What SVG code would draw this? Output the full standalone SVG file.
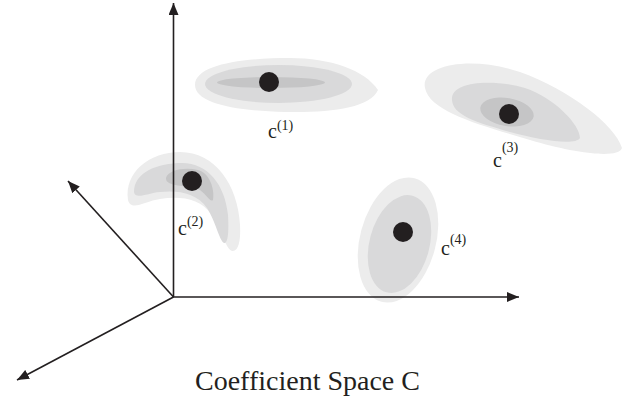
<svg xmlns="http://www.w3.org/2000/svg" width="642" height="401" viewBox="0 0 642 401">
<style>
.l1{fill:#ececec}
.l2{fill:#d9d9da}
.l3{fill:#c5c5c6}
.dot{fill:#231f20}
.ax{stroke:#231f20;stroke-width:1.6;fill:none}
.lbl{font-family:"Liberation Serif","Times New Roman",serif;fill:#231f20}
.c{font-size:20px}
.sup{font-size:14px}
</style>
<defs>
<marker id="ah" markerWidth="13" markerHeight="10" refX="12" refY="5" orient="auto" markerUnits="userSpaceOnUse">
<path d="M0,0 L12,5 L0,10 Z" fill="#231f20"/>
</marker>
</defs>
<rect width="642" height="401" fill="#ffffff"/>

<g id="c1">
<path class="l1" d="M195,85 C195,65 240,58 290,58 C330,58 365,70 378,90 C370,108 330,113 285,112 C235,111 195,103 195,85 Z"/>
<ellipse class="l2" cx="278.5" cy="84" rx="73.5" ry="19"/>
<ellipse class="l3" cx="271" cy="82.5" rx="54" ry="5.5"/>
<circle class="dot" cx="269" cy="82" r="10"/>
<text class="lbl" x="268" y="138"><tspan class="c">c</tspan><tspan class="sup" dy="-8.5">(1)</tspan></text>
</g>

<g id="c2">
<path class="l1" d="M128,200 C124,172 150,152 180,152 C215,152 238,185 240,225 C241,242 238,252 232,251 C225,248 222,230 212,215 C200,198 180,196 160,199 C145,201 131,212 128,200 Z"/>
<path class="l2" d="M134,192 C134,172 158,163 182,163 C208,163 225,185 228,215 C229,232 228,244 224,243 C219,240 216,222 207,208 C197,193 178,190 160,192 C148,193 135,200 134,192 Z"/>
<path class="l3" d="M166,178 C168,170 185,167 198,170 C210,173 215,190 213,200 C210,203 205,192 198,189 C188,185 165,187 166,178 Z"/>
<circle class="dot" cx="192" cy="181" r="10"/>
<text class="lbl" x="178" y="235"><tspan class="c">c</tspan><tspan class="sup" dy="-9">(2)</tspan></text>
</g>

<g id="c3">
<path class="l1" d="M425,88 C420,65 470,55 520,72 C570,90 615,125 622,148 C618,160 570,152 530,140 C480,125 430,112 425,88 Z"/>
<path class="l2" d="M452,100 C450,82 490,78 525,88 C555,98 580,125 580,138 C575,146 540,140 510,132 C475,122 453,115 452,100 Z"/>
<ellipse class="l3" cx="507" cy="112" rx="27" ry="14" transform="rotate(10 507 112)"/>
<circle class="dot" cx="509" cy="114" r="10"/>
<text class="lbl" x="493" y="167"><tspan class="c">c</tspan><tspan class="sup" dy="-15.5">(3)</tspan></text>
</g>

<g id="c4">
<ellipse class="l1" cx="398" cy="240" rx="38" ry="64" transform="rotate(15 398 240)"/>
<ellipse class="l2" cx="399.5" cy="244" rx="30" ry="50" transform="rotate(15 399.5 244)"/>
<circle class="dot" cx="403" cy="232" r="10"/>
<text class="lbl" x="441" y="255"><tspan class="c">c</tspan><tspan class="sup" dy="-11">(4)</tspan></text>
</g>

<g id="connectors">
<line class="ax" x1="173.5" y1="297" x2="173.5" y2="3" marker-end="url(#ah)"/>
<line class="ax" x1="173" y1="297" x2="519" y2="297" marker-end="url(#ah)"/>
<line class="ax" x1="173.5" y1="297" x2="68" y2="181" marker-end="url(#ah)"/>
<line class="ax" x1="173.5" y1="297" x2="17" y2="380" marker-end="url(#ah)"/>
</g>

<g id="title">
<text class="lbl" x="195" y="390" font-size="28">Coefficient Space C</text>
</g>
</svg>
